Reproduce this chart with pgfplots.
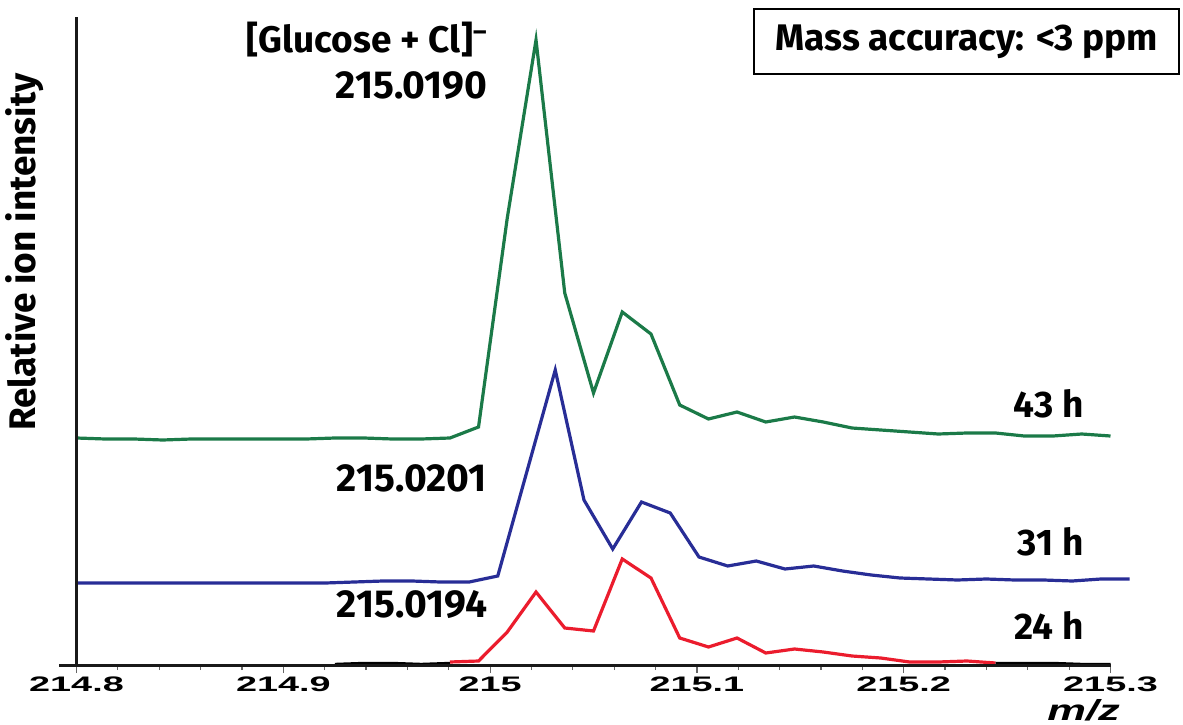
\documentclass[border=0pt]{standalone}
\usepackage{pgfplots}
\pgfplotsset{compat=1.18}
\usepackage{fontspec}
\setmainfont{Fira Sans}
\newfontfamily\tickfont[FakeStretch=1.8]{Liberation Sans}
\newfontfamily\mzfont[FakeStretch=1.5]{Liberation Sans}
\definecolor{cgreen}{HTML}{1B7A48}
\definecolor{cblue}{HTML}{282D96}
\definecolor{cred}{HTML}{EB1C2D}
\begin{document}
\begin{tikzpicture}
\path[use as bounding box] (-38.25pt,-29.5pt) rectangle (553.25pt,332.5pt);
\begin{axis}[
  scale only axis, width=517pt, height=324pt,
  xmin=214.8, xmax=215.3, ymin=0, ymax=648,
  axis lines*=left,
  axis line style={line width=1.5pt, black!90},
  clip=false, axis on top,
  ytick=\empty,
  xtick={214.8,214.9,215,215.1,215.2,215.3},
  xticklabels={214.8,214.9,215,215.1,215.2,215.3},
  minor x tick num=4,
  tick align=outside,
  major tick length=4pt, minor tick length=2.5pt,
  every tick/.style={black!60, line width=0.6pt},
  xticklabel style={font=\tickfont\bfseries\fontsize{10.5}{12}\selectfont, anchor=north, yshift=1.5pt},
  ylabel={\bfseries Relative ion intensity},
  ylabel style={font=\fontsize{18.5}{20}\selectfont, at={(axis description cs:-0.0498,0.637)}, anchor=center, rotate=0},
  xlabel={\itshape\bfseries m/z},
  xlabel style={font=\mzfont\fontsize{14.5}{16}\selectfont, at={(axis description cs:0.974,-0.0694)}, anchor=center},
]
% 43 h
\addplot[cgreen, line width=1.6pt] coordinates {
(214.8000,227) (214.8139,226) (214.8278,226) (214.8417,225) (214.8556,226)
(214.8694,226) (214.8833,226) (214.8972,226) (214.9111,226) (214.9250,227)
(214.9389,227) (214.9528,226) (214.9667,226) (214.9806,227) (214.9944,238)
(215.0083,447) (215.0222,625) (215.0361,372) (215.0500,272) (215.0639,353)
(215.0778,331) (215.0917,260) (215.1056,246) (215.1194,253) (215.1333,243)
(215.1472,248) (215.1611,243) (215.1750,237) (215.1889,235) (215.2028,233)
(215.2167,231) (215.2306,232) (215.2444,232) (215.2583,229) (215.2722,229)
(215.2861,231) (215.3000,229)};
% 31 h
\addplot[cblue, line width=1.6pt] coordinates {
(214.8000,82) (214.8093,82) (214.8232,82) (214.8371,82) (214.8510,82)
(214.8649,82) (214.8787,82) (214.8926,82) (214.9065,82) (214.9204,82)
(214.9343,83) (214.9482,84) (214.9621,84) (214.9760,83) (214.9899,83)
(215.0037,89) (215.0315,295) (215.0454,165) (215.0593,116) (215.0732,163)
(215.0871,152) (215.1010,108) (215.1149,99) (215.1287,104) (215.1426,96)
(215.1565,99) (215.1704,94) (215.1843,90) (215.1982,87) (215.2121,86)
(215.2260,85) (215.2399,86) (215.2537,85) (215.2676,85) (215.2815,84)
(215.2954,86) (215.3093,86)};
% 24 h
\addplot[black, line width=1.2pt] coordinates {
(214.9250,1) (214.9389,2) (214.9528,2) (214.9667,1) (214.9806,2)};
\addplot[cred, line width=1.6pt] coordinates {
(214.9806,3) (214.9944,4) (215.0083,33) (215.0222,73) (215.0361,37)
(215.0500,34) (215.0639,106) (215.0778,87) (215.0917,27) (215.1056,18)
(215.1194,27) (215.1333,12) (215.1472,16) (215.1611,13) (215.1750,9)
(215.1889,7) (215.2028,3) (215.2167,3) (215.2306,4) (215.2444,2)};
\addplot[black, line width=1.2pt] coordinates {
(215.2444,2) (215.2583,2) (215.2722,2) (215.2861,1) (215.3000,1)};
\end{axis}
\draw[line width=1.5pt, black!90] (-8.5pt,0) -- (0,0);
\begin{scope}[every node/.style={font=\bfseries\fontsize{18.5}{20}\selectfont, inner sep=0pt}]
\node[anchor=east] at (205.75pt,312.5pt) {[Glucose + Cl]\textsuperscript{–}};
\node[anchor=east, font=\bfseries\fontsize{19.5}{21}\selectfont] at (205.75pt,289.5pt) {215.0190};
\node[anchor=east, font=\bfseries\fontsize{19.5}{21}\selectfont] at (205.25pt,93.5pt) {215.0201};
\node[anchor=east, font=\bfseries\fontsize{19.5}{21}\selectfont] at (205.75pt,30pt) {215.0194};
\node[anchor=east] at (503.75pt,130.5pt) {43 h};
\node[anchor=east] at (503.75pt,61.5pt) {31 h};
\node[anchor=east] at (503.75pt,20pt) {24 h};
\node[draw, line width=0.9pt, minimum width=212.5pt, minimum height=32.5pt, font=\bfseries\fontsize{18.5}{20}\selectfont] at (445pt,311.75pt) {Mass accuracy: <3 ppm};
\end{scope}
\end{tikzpicture}
\end{document}
